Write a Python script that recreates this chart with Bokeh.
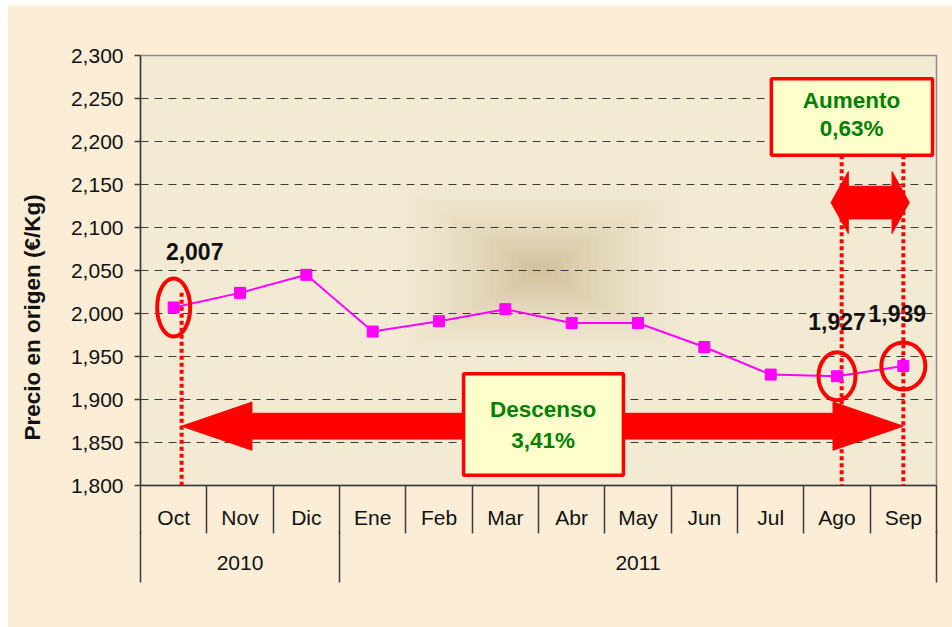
import numpy as np
from bokeh.plotting import figure
from bokeh.models import Range1d, FixedTicker, CustomJSTickFormatter, LinearAxis
from bokeh.core.properties import value
from bokeh.embed import file_html
from bokeh.resources import INLINE

# ---------------- data ----------------
months = ["Oct", "Nov", "Dic", "Ene", "Feb", "Mar", "Abr", "May", "Jun", "Jul", "Ago", "Sep"]
years = ["2010", "2011"]
year_starts = [0, 3]
prices = [2.007, 2.024, 2.045, 1.979, 1.991, 2.005, 1.989, 1.989, 1.961, 1.929, 1.927, 1.939]
y_ticks = [1.80, 1.85, 1.90, 1.95, 2.00, 2.05, 2.10, 2.15, 2.20, 2.25, 2.30]
marked = ["Oct", "Ago", "Sep"]
descenso = ["Descenso", "3,41%"]
aumento = ["Aumento", "0,63%"]
y_title = "Precio en origen (€/Kg)"

# ---------------- style ----------------
FONT = "Liberation Sans"
RED = "#FF0000"
GREEN = "#008000"
INK = "#3C3C3C"
MAG = "#FF00FF"

n = len(months)
xc = [i + 0.5 for i in range(n)]
idx = [months.index(m) for m in marked]

p = figure(width=945, height=622,
           x_range=Range1d(0, n), y_range=Range1d(y_ticks[0], y_ticks[-1]),
           x_axis_location=None, output_backend="svg", toolbar_location=None,
           min_border_left=133, min_border_right=16, min_border_top=50, min_border_bottom=142)
p.styles = {"margin-left": "7px", "margin-top": "5px"}
p.background_fill_color = "#F3EAD4"
p.border_fill_color = "#FCEED6"
p.outline_line_color = "#8C8C8C"
p.outline_line_width = 1.5

# soft brown glow in the middle of the plot area (rectangular path gradient)
H, W = 215, 398
xs = (np.arange(W) + 0.5) * n / W
ys = y_ticks[0] + (np.arange(H) + 0.5) * (y_ticks[-1] - y_ticks[0]) / H
X, Y = np.meshgrid(xs, ys)
t = np.maximum(np.abs(X - 6.03) * 66.33 / 150.0, np.abs(Y - 2.05) * 860 / 90.0)
a = 0.8 * np.clip(1 - t, 0, 1) ** 1.5
img = np.zeros((H, W), dtype=np.uint32)
v = img.view(dtype=np.uint8).reshape((H, W, 4))
v[:, :, 0] = 200
v[:, :, 1] = 182
v[:, :, 2] = 140
v[:, :, 3] = (a * 255).astype(np.uint8)
p.image_rgba(image=[img], x=0, y=y_ticks[0], dw=n, dh=y_ticks[-1] - y_ticks[0], level="image")

# y axis
yt = FixedTicker(ticks=y_ticks)
p.yaxis.ticker = yt
p.ygrid.ticker = yt
p.yaxis.formatter = CustomJSTickFormatter(code="return tick.toFixed(3).replace('.', ',')")
p.yaxis.major_tick_out = 6
p.yaxis.major_tick_in = 0
p.yaxis.minor_tick_out = 0
p.yaxis.minor_tick_in = 0
p.yaxis.major_label_standoff = 11
p.yaxis.axis_line_color = INK
p.yaxis.axis_line_width = 1.5
p.yaxis.major_tick_line_color = INK
p.yaxis.major_tick_line_width = 1.5
p.yaxis.major_label_text_font = FONT
p.yaxis.major_label_text_font_size = "21px"
p.yaxis.major_label_text_color = "#111111"
# axis title; trailing no-break spaces push the visible words lower, as in the original
p.yaxis.axis_label = y_title + "\u00a0" * 15
p.yaxis.axis_label_standoff = 23
p.yaxis.axis_label_text_font = FONT
p.yaxis.axis_label_text_font_style = "bold"
p.yaxis.axis_label_text_font_size = "22.5px"
p.yaxis.axis_label_text_color = "#111111"
p.ygrid.grid_line_color = INK
p.ygrid.grid_line_dash = "8 6"
p.ygrid.grid_line_width = 1
p.xgrid.visible = False

# x axis: months
ax1 = LinearAxis(
    ticker=FixedTicker(ticks=xc, minor_ticks=list(range(n + 1))),
    formatter=CustomJSTickFormatter(args=dict(labels=months), code="return labels[Math.floor(tick)]"),
    major_tick_in=0, major_tick_out=0, minor_tick_in=0, minor_tick_out=48,
    minor_tick_line_color=INK, minor_tick_line_width=1.5,
    axis_line_color=INK, axis_line_width=1.5,
    major_label_standoff=-28, major_label_text_font=FONT,
    major_label_text_font_size="21px", major_label_text_color="#111111")
p.add_layout(ax1, "below")

# x axis: years
bounds = year_starts + [n]
year_centers = [(bounds[i] + bounds[i + 1]) / 2 for i in range(len(years))]
ax2 = LinearAxis(
    ticker=FixedTicker(ticks=year_centers, minor_ticks=bounds),
    formatter=CustomJSTickFormatter(args=dict(labels=years, centers=year_centers),
                                    code="const i = centers.indexOf(tick); return i >= 0 ? labels[i] : ''"),
    major_tick_in=0, major_tick_out=0, minor_tick_in=0, minor_tick_out=51,
    minor_tick_line_color=INK, minor_tick_line_width=1.5,
    axis_line_color=None,
    major_label_standoff=-27, major_label_text_font=FONT,
    major_label_text_font_size="21px", major_label_text_color="#111111")
p.add_layout(ax2, "below")

# big double arrow (Descenso)
def double_arrow(xl, xr, yc, hh, sh, hl):
    return ([xl, xl + hl, xl + hl, xr - hl, xr - hl, xr, xr - hl, xr - hl, xl + hl, xl + hl],
            [yc, yc + hh, yc + sh, yc + sh, yc + hh, yc, yc - hh, yc - sh, yc - sh, yc - hh])

ax_, ay_ = double_arrow(xc[idx[0]] + 0.12, xc[idx[2]], 1.869, 0.028, 0.015, 1.06)
p.patch(ax_, ay_, fill_color=RED, line_color=RED, line_width=1)
sx_, sy_ = double_arrow(10.41, 11.59, 2.129, 0.036, 0.019, 0.26)
p.patch(sx_, sy_, fill_color=RED, line_color=RED, line_width=1)

# dotted markers
dot_x = [xc[idx[0]] + 0.12, xc[idx[1]] + 0.07, xc[idx[2]]]
dot_top = [prices[idx[0]] + 0.017, 2.184, 2.184]
p.segment(x0=dot_x, y0=dot_top, x1=dot_x, y1=[y_ticks[0]] * 3,
          line_color=RED, line_width=4, line_dash="4 3", line_cap="butt")

# series
p.line(xc, prices, line_color=MAG, line_width=2)
p.scatter(xc, prices, marker="square", size=11, fill_color=MAG, line_color=MAG)

# highlight ellipses
p.ellipse(x=[xc[i] for i in idx], y=[prices[i] for i in idx],
          width=[33, 37, 44], height=[58, 48, 47], width_units="screen", height_units="screen",
          fill_color=None, line_color=RED, line_width=4)

# value labels
p.text(x=[xc[i] for i in idx], y=[prices[i] for i in idx],
       text=[f"{prices[i]:.3f}".replace(".", ",") for i in idx],
       x_offset=[21, 0, -6], y_offset=[-56, -55, -52],
       text_font=value(FONT), text_font_style="bold", text_font_size="23px",
       text_color="#111111", text_align="center", text_baseline="middle")

# boxes
p.quad(left=[4.87, 9.51], right=[7.28, 11.94], bottom=[1.812, 2.184], top=[1.930, 2.273],
       fill_color="#FFFFCC", line_color=RED, line_width=3.5)
p.text(x=[6.07, 6.07], y=[1.888, 1.852], text=descenso,
       text_font=value(FONT), text_font_style="bold", text_font_size="22.5px",
       text_color=GREEN, text_align="center", text_baseline="middle")
p.text(x=[10.72, 10.72], y=[2.248, 2.215], text=aumento,
       text_font=value(FONT), text_font_style="bold", text_font_size="22.5px",
       text_color=GREEN, text_align="center", text_baseline="middle")

open("out.html", "w").write(file_html(p, INLINE))
